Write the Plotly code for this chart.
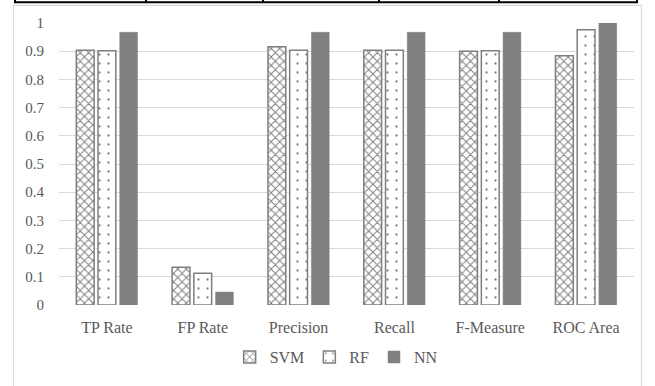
import plotly.graph_objects as go

# Classifier evaluation metrics
metrics = ["TP Rate", "FP Rate", "Precision", "Recall", "F-Measure", "ROC Area"]
svm = [0.903, 0.134, 0.916, 0.903, 0.900, 0.884]
rf = [0.902, 0.113, 0.903, 0.903, 0.902, 0.976]
nn = [0.967, 0.046, 0.967, 0.967, 0.967, 1.000]
y_ticks = [0, 0.1, 0.2, 0.3, 0.4, 0.5, 0.6, 0.7, 0.8, 0.9, 1]
y_tick_text = ["0", "0.1", "0.2", "0.3", "0.4", "0.5", "0.6", "0.7", "0.8", "0.9", "1"]

TEXT = "#595959"
FONT = "'Liberation Serif', 'Times New Roman', Times, serif"

fig = go.Figure()
fig.add_trace(go.Bar(
    name="SVM", x=metrics, y=svm,
    marker=dict(
        color="white",
        line=dict(color="#7f7f7f", width=1.5),
        pattern=dict(shape="x", size=6, solidity=0.3, fgcolor="#000000", bgcolor="white"),
    ),
))
fig.add_trace(go.Bar(
    name="RF", x=metrics, y=rf,
    marker=dict(
        color="white",
        line=dict(color="#7f7f7f", width=1.5),
        pattern=dict(shape=".", size=9, solidity=0.05, fgcolor="#000000", bgcolor="white"),
    ),
))
fig.add_trace(go.Bar(
    name="NN", x=metrics, y=nn,
    marker=dict(color="#808080", line=dict(color="#808080", width=0.5)),
))

L, R, T, B = 59, 21, 23, 76
W, H = 655, 386
pw, ph = W - L - R, H - T - B


def px_x(x):
    return (x - L) / pw


def px_y(y):
    return (H - B - y) / ph


shapes = [
    # outer chart frame (open at the bottom edge of the page)
    dict(type="line", xref="paper", yref="paper",
         x0=px_x(13.5), x1=px_x(13.5), y0=px_y(400), y1=px_y(5),
         line=dict(color="#d9d9d9", width=1.2), layer="below"),
    dict(type="line", xref="paper", yref="paper",
         x0=px_x(641.5), x1=px_x(641.5), y0=px_y(400), y1=px_y(5),
         line=dict(color="#d9d9d9", width=1.2), layer="below"),
    dict(type="line", xref="paper", yref="paper",
         x0=px_x(13.5), x1=px_x(641.5), y0=px_y(5), y1=px_y(5),
         line=dict(color="#d9d9d9", width=1.2), layer="below"),
    # table rule above the chart
    dict(type="line", xref="paper", yref="paper",
         x0=px_x(14), x1=px_x(638), y0=px_y(2), y1=px_y(2),
         line=dict(color="black", width=2)),
]
for xv in [15, 146, 263, 379, 499, 637]:
    shapes.append(dict(type="line", xref="paper", yref="paper",
                       x0=px_x(xv), x1=px_x(xv), y0=px_y(2), y1=px_y(-2),
                       line=dict(color="black", width=2)))

fig.update_layout(
    width=W, height=H,
    margin=dict(l=L, r=R, t=T, b=B, pad=0),
    paper_bgcolor="white", plot_bgcolor="white",
    barmode="group", bargap=0.32, bargroupgap=0.18,
    font=dict(family=FONT, size=15, color=TEXT),
    showlegend=True,
    legend=dict(orientation="h", x=0.482, xanchor="center", y=px_y(363), yanchor="middle",
                font=dict(family=FONT, size=16, color=TEXT),
                itemwidth=30, traceorder="normal"),
    xaxis=dict(showgrid=False, showline=False, ticks="outside", ticklen=8,
               tickcolor="rgba(0,0,0,0)", tickfont=dict(family=FONT, size=16, color=TEXT)),
    yaxis=dict(range=[0, 1], tickvals=y_ticks, ticktext=y_tick_text,
               showgrid=True, gridcolor="#d9d9d9", gridwidth=1, zeroline=False,
               showline=False, ticks="outside", ticklen=11, tickcolor="rgba(0,0,0,0)",
               tickfont=dict(family=FONT, size=15, color=TEXT)),
    shapes=shapes,
)

fig.write_html("out.html")
